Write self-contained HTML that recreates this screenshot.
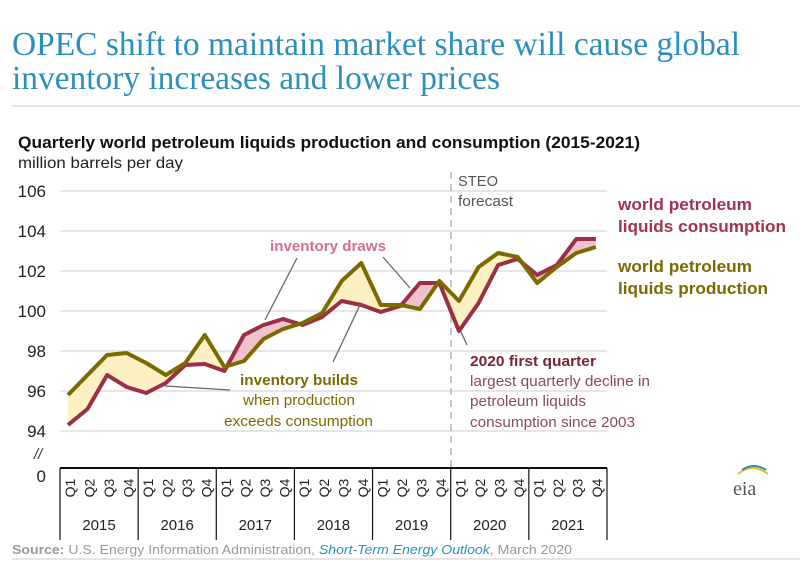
<!DOCTYPE html>
<html><head><meta charset="utf-8"><style>
html,body{margin:0;padding:0;background:#fff;}
svg{display:block;font-family:"Liberation Sans",sans-serif;}
</style></head><body>
<svg id="s" width="800" height="561" viewBox="0 0 800 561" xmlns="http://www.w3.org/2000/svg">
<text x="12" y="55" font-family="Liberation Serif,serif" font-size="34" fill="#2b8fbe" textLength="728" lengthAdjust="spacingAndGlyphs">OPEC shift to maintain market share will cause global</text>
<text x="12" y="89" font-family="Liberation Serif,serif" font-size="34" fill="#2b8fbe" textLength="488" lengthAdjust="spacingAndGlyphs">inventory increases and lower prices</text>
<line x1="12" y1="106" x2="800" y2="106" stroke="#ddd" stroke-width="1.5"/>
<text x="18" y="148" font-size="17" font-weight="bold" fill="#111" textLength="622" lengthAdjust="spacingAndGlyphs">Quarterly world petroleum liquids production and consumption (2015-2021)</text>
<text x="18" y="168" font-size="16" fill="#222" textLength="165" lengthAdjust="spacingAndGlyphs">million barrels per day</text>
<g id="grid"></g>
<g id="plot"></g>
<g id="axis"></g>
<g stroke="#666" stroke-width="1.3">
<line x1="297" y1="258" x2="265" y2="320"/><line x1="383" y1="257" x2="410" y2="288"/>
<line x1="333" y1="362" x2="360" y2="305"/><line x1="230" y1="390" x2="165" y2="386"/>
<line x1="461" y1="332" x2="467" y2="345"/>
</g>
<text x="270" y="251" font-size="15" font-weight="bold" fill="#d4708a" textLength="116" lengthAdjust="spacingAndGlyphs">inventory draws</text>
<text x="240" y="385" font-size="15" font-weight="bold" fill="#7a6a00" textLength="118" lengthAdjust="spacingAndGlyphs">inventory builds</text>
<text x="243" y="405" font-size="15" fill="#7a6a00" textLength="112" lengthAdjust="spacingAndGlyphs">when production</text>
<text x="224" y="426" font-size="15" fill="#7a6a00" textLength="149" lengthAdjust="spacingAndGlyphs">exceeds consumption</text>
<text x="458" y="186" font-size="15" fill="#555" textLength="40" lengthAdjust="spacingAndGlyphs">STEO</text>
<text x="458" y="206" font-size="15" fill="#555" textLength="55" lengthAdjust="spacingAndGlyphs">forecast</text>
<text x="470" y="366" font-size="15" font-weight="bold" fill="#7a2535" textLength="126" lengthAdjust="spacingAndGlyphs">2020 first quarter</text>
<text x="470" y="386" font-size="15" fill="#8a4a5e" textLength="180" lengthAdjust="spacingAndGlyphs">largest quarterly decline in</text>
<text x="470" y="406" font-size="15" fill="#8a4a5e" textLength="116" lengthAdjust="spacingAndGlyphs">petroleum liquids</text>
<text x="470" y="427" font-size="15" fill="#8a4a5e" textLength="165" lengthAdjust="spacingAndGlyphs">consumption since 2003</text>
<text x="618" y="210" font-size="17" font-weight="bold" fill="#a0334d" textLength="134" lengthAdjust="spacingAndGlyphs">world petroleum</text>
<text x="618" y="232" font-size="17" font-weight="bold" fill="#a0334d" textLength="168" lengthAdjust="spacingAndGlyphs">liquids consumption</text>
<text x="618" y="272" font-size="17" font-weight="bold" fill="#7a6a00" textLength="134" lengthAdjust="spacingAndGlyphs">world petroleum</text>
<text x="618" y="294" font-size="17" font-weight="bold" fill="#7a6a00" textLength="150" lengthAdjust="spacingAndGlyphs">liquids production</text>
<text x="733" y="495" font-family="Liberation Serif,serif" font-size="20" fill="#555">eia</text>
<path d="M738 474 Q752 462 768 474" stroke="#e8c020" stroke-width="2" fill="none"/>
<path d="M742 470 Q754 462 766 470" stroke="#2b8fbe" stroke-width="2" fill="none"/>
<text x="12" y="554" font-size="13" fill="#999" textLength="560" lengthAdjust="spacingAndGlyphs"><tspan font-weight="bold">Source:</tspan> U.S. Energy Information Administration, <tspan fill="#2b8fbe" font-style="italic">Short-Term Energy Outlook</tspan>, March 2020</text>
<line x1="12" y1="559" x2="800" y2="559" stroke="#ddd" stroke-width="1.5"/>
</svg>
<script>
const NS="http://www.w3.org/2000/svg";
function el(p,t,a,txt){const e=document.createElementNS(NS,t);for(const k in a)e.setAttribute(k,a[k]);if(txt!=null)e.textContent=txt;document.getElementById(p).appendChild(e);return e;}
const Y=v=>191+(106-v)*20, X=i=>68+19.55*i;
for(let v=94;v<=106;v+=2){el("grid","line",{x1:60,x2:607,y1:Y(v),y2:Y(v),stroke:"#ddd","stroke-width":1.5});
el("grid","text",{x:46,y:Y(v)+6,"font-size":17,fill:"#222","text-anchor":"end"},String(v));}
el("grid","text",{x:34,y:459,"font-size":15,fill:"#333","font-style":"italic"},"//");
el("grid","text",{x:46,y:482,"font-size":17,fill:"#222","text-anchor":"end"},"0");
el("grid","line",{x1:451,x2:451,y1:172,y2:468,stroke:"#aaa","stroke-width":1.3,"stroke-dasharray":"7,5"});
const C=[94.3,95.1,96.8,96.2,95.9,96.4,97.3,97.35,97.0,98.8,99.3,99.6,99.3,99.7,100.5,100.3,99.95,100.25,101.4,101.4,99.0,100.4,102.3,102.6,101.8,102.3,103.6,103.6];
const P=[95.8,96.8,97.8,97.9,97.4,96.8,97.4,98.8,97.2,97.5,98.6,99.1,99.4,99.9,101.5,102.4,100.3,100.3,100.1,101.5,100.5,102.2,102.9,102.7,101.4,102.2,102.9,103.2];
const pts=a=>a.map((v,i)=>X(i).toFixed(1)+","+Y(v).toFixed(1));
const cp=pts(C),pp=pts(P),n=C.length;
const defs=el("plot","defs",{});
function clip(id,d){const c=document.createElementNS(NS,"clipPath");c.setAttribute("id",id);const p=document.createElementNS(NS,"polygon");p.setAttribute("points",d);c.appendChild(p);defs.appendChild(c);}
clip("aboveC",cp.join(" ")+` ${X(n-1)},0 ${X(0)},0`);
clip("belowC",cp.join(" ")+` ${X(n-1)},600 ${X(0)},600`);
const between=pp.join(" ")+" "+cp.slice().reverse().join(" ");
el("plot","polygon",{points:between,fill:"#fdf0c2","clip-path":"url(#aboveC)"});
el("plot","polygon",{points:between,fill:"#f0c3cc","clip-path":"url(#belowC)"});
el("plot","polyline",{points:cp.join(" "),fill:"none",stroke:"#9b2f45","stroke-width":4,"stroke-linejoin":"round"});
el("plot","polyline",{points:pp.join(" "),fill:"none",stroke:"#7a6a00","stroke-width":4,"stroke-linejoin":"round"});
el("axis","line",{x1:60,x2:607,y1:468,y2:468,stroke:"#111","stroke-width":2});
const yrs=["2015","2016","2017","2018","2019","2020","2021"];
for(let y=0;y<=7;y++){const x=60+y*78.14;el("axis","line",{x1:x,x2:x,y1:468,y2:540,stroke:"#111","stroke-width":1.2});
if(y<7){el("axis","text",{x:x+39,y:530,"font-size":15,fill:"#222","text-anchor":"middle"},yrs[y]);
for(let q=0;q<4;q++){const qx=x+9.8+q*19.53;el("axis","text",{x:0,y:0,"font-size":14,fill:"#222",transform:`translate(${qx+5},${488}) rotate(-90)`,"text-anchor":"middle"},"Q"+(q+1));}}}
</script>
</body></html>
